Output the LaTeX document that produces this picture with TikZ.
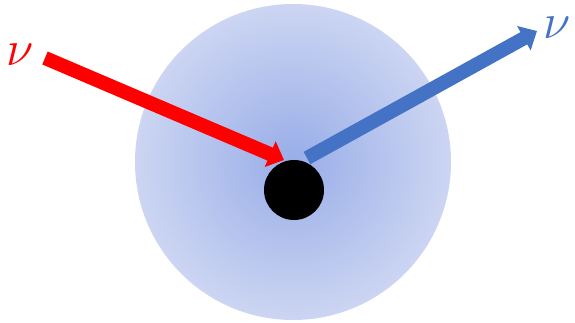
\documentclass[tikz,border=0pt]{standalone}
\usepackage{amsmath}
\usepackage{graphicx}
\usepackage{xcolor}
\usetikzlibrary{arrows.meta}
\definecolor{nured}{RGB}{255,0,0}
\definecolor{nublue}{RGB}{68,114,196}
\definecolor{haloin}{RGB}{152,173,232}
\definecolor{haloout}{RGB}{204,213,242}
\newcommand{\bignu}{\scalebox{2.0}{\Huge$\nu$}}
\tikzset{
  halo/.style  = {circle, inner sep=0pt, minimum size=316pt,
                  inner color=haloin, outer color=haloout},
  core/.style  = {circle, inner sep=0pt, minimum size=60pt, fill=black},
  lbl/.style   = {inner sep=0pt},
  beam/.style  = {line width=14pt, -{Triangle[length=15pt,width=27pt]}}
}

\begin{document}
\begin{tikzpicture}[x=1pt,y=-1pt]
    \useasboundingbox (0,0) rectangle (575,322);

    % ---- Cloud and target ----
    \node[halo] (halo) at (293,162) {};
    \node[core] (core) at (294,190) {};

    % ---- Beam end points ----
    \coordinate (inStart) at (45,58);
    \coordinate (inEnd)   at (284,160);
    \coordinate (outStart) at (307,158);
    \coordinate (outEnd)   at (537,31);

    % ---- Labels ----
    \node[lbl, text=nured]  (nuIn)  at (20,55) {\bignu};
    \node[lbl, text=nublue] (nuOut) at (557,28) {\bignu};

    % ---- Arrows ----
    \draw[beam, draw=nured, fill=nured] (inStart) -- (inEnd);
    \draw[beam, draw=nublue, fill=nublue] (outStart) -- (outEnd);
  \end{tikzpicture}
\end{document}
